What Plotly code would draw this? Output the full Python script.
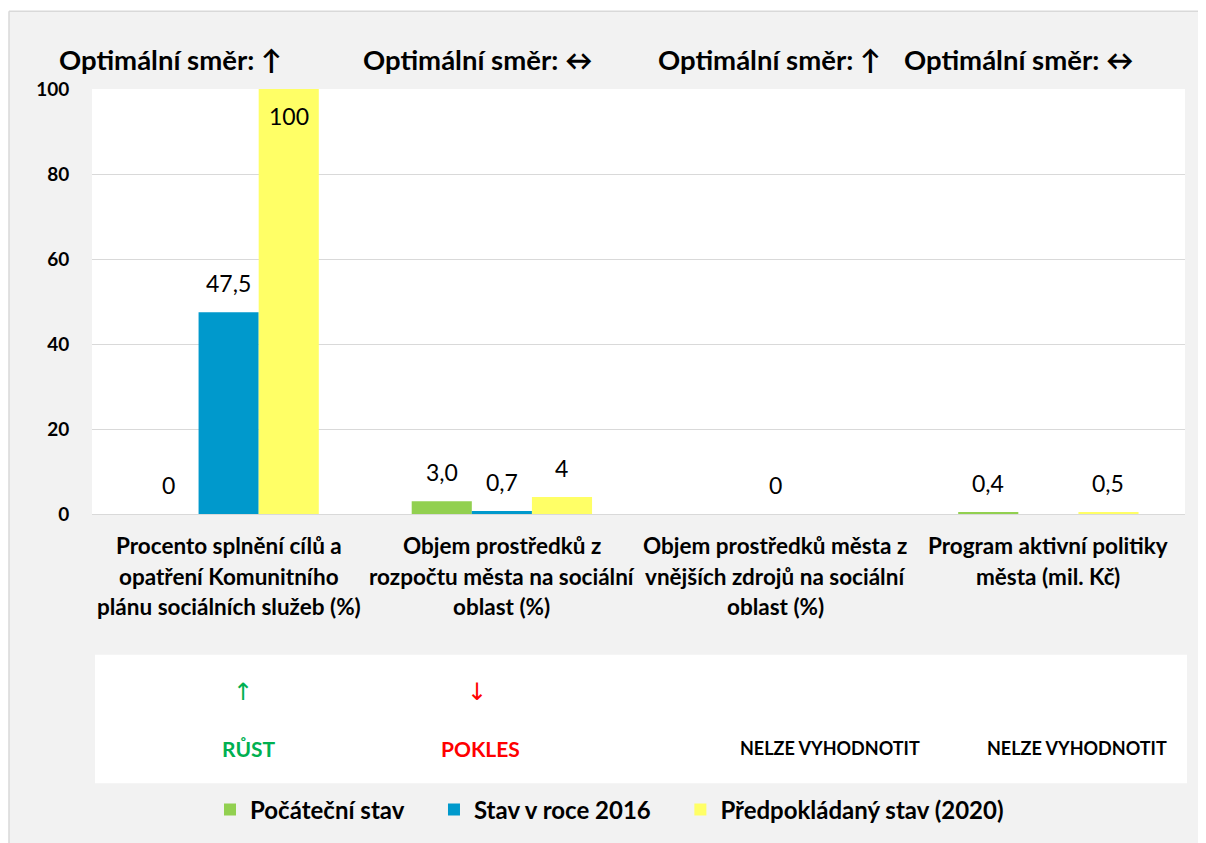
import plotly.graph_objects as go

# ---------------- data ----------------
categories = ["c1", "c2", "c3", "c4"]
category_lines = [
    ["Procento splnění cílů a", "opatření Komunitního", "plánu sociálních služeb (%)"],
    ["Objem prostředků z", "rozpočtu města na sociální", "oblast (%)"],
    ["Objem prostředků města z", "vnějších zdrojů na sociální", "oblast (%)"],
    ["Program aktivní politiky", "města (mil. Kč)"],
]
series_names = ["Počáteční stav", "Stav v roce 2016", "Předpokládaný stav (2020)"]
pocatecni = [0, 3.0, None, 0.4]
stav_2016 = [47.5, 0.7, 0, None]
predpoklad = [100, 4, None, 0.5]
labels_pocatecni = ["0", "3,0", "", "0,4"]
labels_2016 = ["47,5", "0,7", "0", ""]
labels_predpoklad = ["100", "4", "", "0,5"]
optimal_dirs = ["Optimální směr: ↑", "Optimální směr: ↔", "Optimální směr: ↑", "Optimální směr: ↔"]
eval_arrows = ["↑", "↓", "", ""]
eval_texts = ["RŮST", "POKLES", "NELZE VYHODNOTIT", "NELZE VYHODNOTIT"]
y_ticks = [0, 20, 40, 60, 80, 100]

# ---------------- style ----------------
FONT = "Lato"
colors = ["#92D050", "#0099CC", "#FFFF66"]
eval_colors = ["#00B050", "#FF0000", "#000000", "#000000"]

OFF = 8                      # page body margin
W, H = 1206, 843             # screenshot size
L, R, T, B = 92, 1185, 89, 515   # plot area in screenshot pixels
BARGAP = 0.34
bar_px = (R - L) / len(categories) * (1 - BARGAP) / 3
LEGEND_PAD = "\u00a0" * 4


def px2x(px):
    return (px - L) / (R - L)


def px2y(py):
    return (B - py) / (B - T)


fig = go.Figure()
series = [pocatecni, stav_2016, predpoklad]
labels = [labels_pocatecni, labels_2016, labels_predpoklad]
for name, vals, col in zip(series_names, series, colors):
    fig.add_trace(go.Bar(
        x=categories, y=vals, name="<b>" + name + "</b>" + LEGEND_PAD,
        marker=dict(color=col, line=dict(width=0)),
        hoverinfo="x+y",
    ))

annotations = []
# bar value labels
for si, (vals, labs) in enumerate(zip(series, labels)):
    for cat, v, lab in zip(categories, vals, labs):
        if v is None or lab == "":
            continue
        inside = v >= 100
        annotations.append(dict(
            text=lab, x=cat, y=v, xref="x", yref="y", showarrow=False,
            xshift=(si - 1) * bar_px, yshift=-11 if inside else 13,
            yanchor="top" if inside else "bottom", xanchor="center",
            font=dict(family=FONT, size=23, color="black")))
# optimal direction headers
for txt, xp in zip(optimal_dirs, [170, 477, 770, 1018]):
    annotations.append(dict(text="<b>" + txt + "</b>", x=px2x(xp), y=px2y(59),
                            xref="paper", yref="paper", showarrow=False,
                            font=dict(family=FONT, size=27.5, color="black"),
                            xanchor="center", yanchor="middle"))
# category labels (one annotation per line)
for cat, lines in zip(categories, category_lines):
    for i, line in enumerate(lines):
        annotations.append(dict(text="<b>" + line + "</b>", x=cat, y=px2y(547 + 30.5 * i),
                                xref="x", yref="paper", showarrow=False,
                                font=dict(family=FONT, size=22.5, color="black"),
                                xanchor="center", yanchor="middle"))
# evaluation box
for arr, txt, col, xa, xt in zip(eval_arrows, eval_texts, eval_colors,
                                  [243, 477, 0, 0], [248, 480, 830, 1077]):
    if arr:
        annotations.append(dict(text=arr, x=px2x(xa), y=px2y(693), xref="paper", yref="paper",
                                showarrow=False, font=dict(family="DejaVu Sans", size=24, color=col),
                                xanchor="center", yanchor="middle"))
    size = 21 if col != "#000000" else 18
    annotations.append(dict(text="<b>" + txt + "</b>", x=px2x(xt), y=px2y(750), xref="paper", yref="paper",
                            showarrow=False, font=dict(family=FONT, size=size, color=col),
                            xanchor="center", yanchor="middle"))

shapes = [
    # white margin strips top / left
    dict(type="rect", xref="paper", yref="paper", x0=px2x(-20), x1=px2x(W + 20), y0=px2y(11), y1=px2y(-20),
         fillcolor="white", line=dict(width=0), layer="below"),
    dict(type="rect", xref="paper", yref="paper", x0=px2x(-20), x1=px2x(9), y0=px2y(H + 20), y1=px2y(11),
         fillcolor="white", line=dict(width=0), layer="below"),
    dict(type="line", xref="paper", yref="paper", x0=px2x(9), x1=px2x(W + 20), y0=px2y(11), y1=px2y(11),
         line=dict(color="#D9D9D9", width=1.5), layer="below"),
    dict(type="line", xref="paper", yref="paper", x0=px2x(9), x1=px2x(9), y0=px2y(11), y1=px2y(H + 20),
         line=dict(color="#D9D9D9", width=1.5), layer="below"),
    # evaluation box
    dict(type="rect", xref="paper", yref="paper", x0=px2x(95), x1=px2x(1187), y0=px2y(785), y1=px2y(656),
         fillcolor="white", line=dict(width=0), layer="below"),
]

fig.update_layout(
    width=W - OFF, height=H - OFF,
    margin=dict(l=L - OFF, r=W - R, t=T - OFF, b=H - B, pad=0),
    paper_bgcolor="#F2F2F2", plot_bgcolor="white",
    barmode="group", bargap=BARGAP, bargroupgap=0,
    font=dict(family=FONT, color="black"),
    showlegend=True,
    legend=dict(orientation="h", x=px2x(210), xanchor="left", y=px2y(810), yanchor="middle",
                font=dict(family=FONT, size=24, color="black"), bgcolor="rgba(0,0,0,0)",
                traceorder="normal", itemclick=False, itemdoubleclick=False),
    annotations=annotations,
    shapes=shapes,
    xaxis=dict(showticklabels=False, showgrid=False, zeroline=False, showline=False, ticks=""),
    yaxis=dict(range=[0, 100], tickvals=y_ticks, showgrid=True, gridcolor="#D9D9D9", gridwidth=1.2,
               zeroline=True, zerolinecolor="#D9D9D9", zerolinewidth=1.2, showline=False,
               ticks="outside", ticklen=18, tickcolor="rgba(0,0,0,0)",
               tickfont=dict(family=FONT, size=19, color="black", weight="bold")),
)

fig.write_html("out.html")
